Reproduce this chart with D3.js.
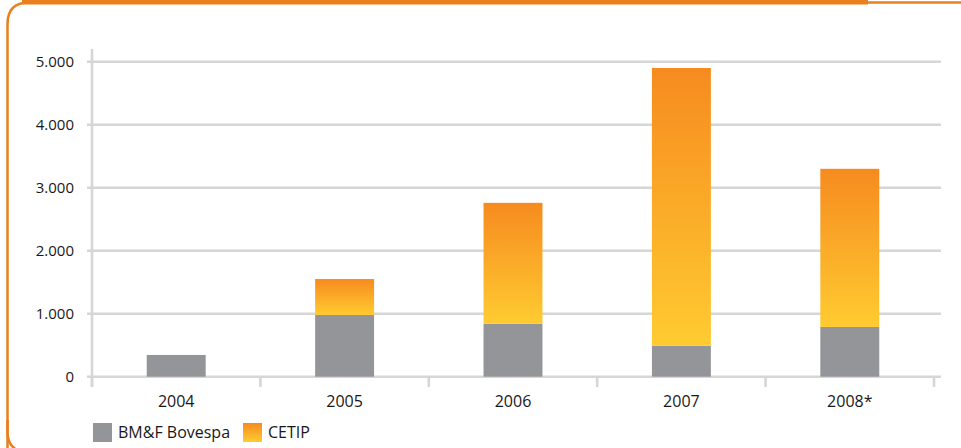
<!DOCTYPE html>
<html>
<head>
<meta charset="utf-8">
<script src="https://cdn.jsdelivr.net/npm/d3@7/dist/d3.min.js"></script>
<style>
  html, body { margin: 0; padding: 0; background: #fff; }
  svg { display: block; }
  text { font-family: "Open Sans", "Noto Sans", sans-serif; fill: #1a1718; }
</style>
</head>
<body>
<svg id="chart" width="961" height="448"></svg>
<script>
// ---- data ----
const years = ["2004", "2005", "2006", "2007", "2008*"];
const bmfBovespa = [345, 980, 840, 490, 790];
const cetip = [0, 570, 1920, 4410, 2510];
const yTickValues = [0, 1000, 2000, 3000, 4000, 5000];
const yTickLabels = ["0", "1.000", "2.000", "3.000", "4.000", "5.000"];
const seriesNames = ["BM&F Bovespa", "CETIP"];

// ---- layout ----
const svg = d3.select("#chart");
const W = 961, H = 448;
const plotLeft = 92, plotRight = 934, gridRight = 941;

const x = d3.scaleBand().domain(years).range([plotLeft, plotRight])
  .paddingInner(0.65).paddingOuter(0.325);
const y = d3.scaleLinear().domain([0, 5000]).range([376.7, 61.7]);

// gradient
const defs = svg.append("defs");
const grad = defs.append("linearGradient").attr("id", "cetipGrad")
  .attr("x1", 0).attr("y1", 0).attr("x2", 0).attr("y2", 1);
grad.append("stop").attr("offset", "0%").attr("stop-color", "#F68B1F");
grad.append("stop").attr("offset", "100%").attr("stop-color", "#FFCB31");

// frame
svg.append("path")
  .attr("d", `M 40 2.5 L ${W + 20} 2.5 M 7.5 ${H + 20} L 7.5 24 Q 7.5 2.5 29 2.5 L 40 2.5`)
  .attr("fill", "none").attr("stroke", "#EA801D").attr("stroke-width", 2.5);
svg.append("path")
  .attr("d", `M 7.5 420 L 7.5 432 Q 7.5 448 22 452`)
  .attr("fill", "none").attr("stroke", "#EA801D").attr("stroke-width", 2.5);
svg.append("rect").attr("x", 22).attr("y", 0).attr("width", 846).attr("height", 4.5)
  .attr("fill", "#EA801D");

// gridlines
const gridColor = "#D6D6D7";
svg.append("g").selectAll("line").data(yTickValues).join("line")
  .attr("x1", plotLeft - 5).attr("x2", gridRight)
  .attr("y1", d => y(d)).attr("y2", d => y(d))
  .attr("stroke", gridColor).attr("stroke-width", 2.6);

// y axis line
svg.append("line").attr("x1", plotLeft).attr("x2", plotLeft)
  .attr("y1", 49).attr("y2", 387).attr("stroke", gridColor).attr("stroke-width", 2.6);

// x ticks at band boundaries
const step = x.step();
const xTickPos = d3.range(years.length + 1).map(i => plotLeft + i * step);
svg.append("g").selectAll("line").data(xTickPos).join("line")
  .attr("x1", d => d).attr("x2", d => d)
  .attr("y1", y(0)).attr("y2", 387)
  .attr("stroke", gridColor).attr("stroke-width", 2.6);

// y axis labels via d3 axis
const yAxis = d3.axisLeft(y).tickValues(yTickValues)
  .tickFormat((d, i) => yTickLabels[i]).tickSize(0).tickPadding(0);
const gy = svg.append("g").attr("transform", `translate(74,0)`).call(yAxis);
gy.select(".domain").remove();
gy.selectAll("text").style("font-size", "15px").attr("fill", "#1a1718")
  .style("font-family", "'Open Sans', sans-serif");

// x axis labels via d3 axis
const xAxis = d3.axisBottom(x).tickSize(0).tickPadding(0);
const gx = svg.append("g").attr("transform", `translate(0,396)`).call(xAxis);
gx.select(".domain").remove();
gx.selectAll("text").style("font-size", "16px").attr("fill", "#1a1718")
  .style("font-family", "'Open Sans', sans-serif");

// bars
const bars = svg.append("g");
bars.selectAll("rect.bmf").data(years).join("rect").attr("class", "bmf")
  .attr("x", d => x(d)).attr("width", x.bandwidth())
  .attr("y", (d, i) => y(bmfBovespa[i]))
  .attr("height", (d, i) => y(0) - y(bmfBovespa[i]))
  .attr("fill", "#939598");
bars.selectAll("rect.cetip").data(years.filter((d, i) => cetip[i] > 0)).join("rect")
  .attr("class", "cetip")
  .attr("x", d => x(d)).attr("width", x.bandwidth())
  .attr("y", d => { const i = years.indexOf(d); return y(bmfBovespa[i] + cetip[i]); })
  .attr("height", d => { const i = years.indexOf(d); return y(bmfBovespa[i]) - y(bmfBovespa[i] + cetip[i]); })
  .attr("fill", "url(#cetipGrad)");

// legend
const legend = svg.append("g");
const legendX = [93, 243];
const legendFill = ["#939598", "url(#cetipGrad)"];
seriesNames.forEach((name, i) => {
  legend.append("rect").attr("x", legendX[i]).attr("y", 423).attr("width", 19).attr("height", 19)
    .attr("fill", legendFill[i]);
  legend.append("text").attr("x", legendX[i] + 25).attr("y", 438)
    .style("font-size", "16px").text(name);
});
</script>
</body>
</html>
